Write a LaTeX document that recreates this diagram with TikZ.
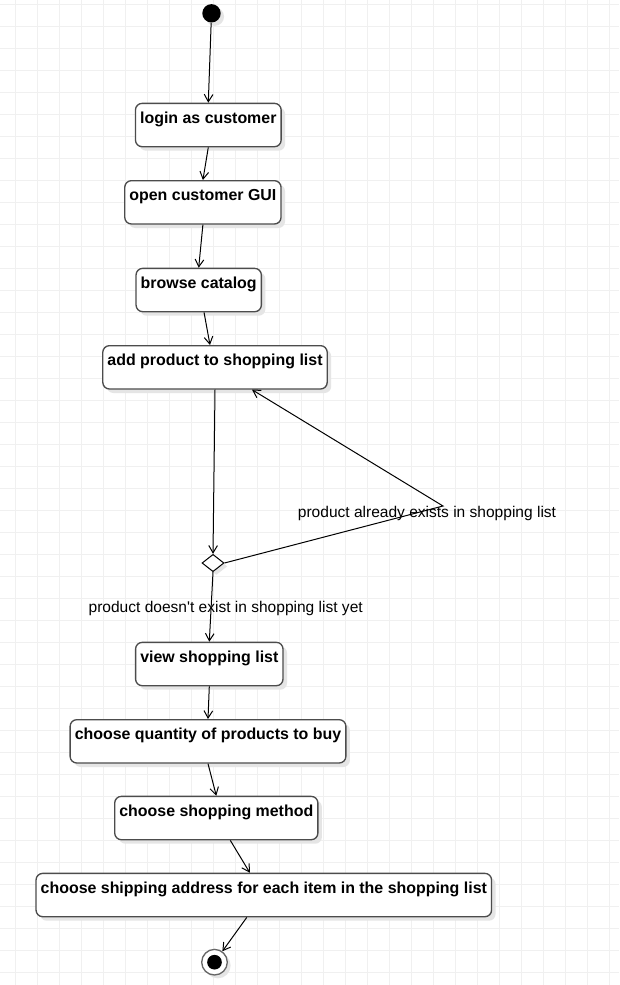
\documentclass[tikz,border=0pt]{standalone}
\usepackage{fontspec}
\setmainfont{Liberation Sans}
\usetikzlibrary{shapes.geometric, shadows, arrows.meta}

\newcommand{\diagfont}{\fontsize{11.65}{14}\selectfont}
\newcommand{\actfont}{\fontsize{11.95}{14}\selectfont\bfseries}

\begin{document}
\begin{tikzpicture}[
    x=0.75pt, y=-0.75pt,
    activity/.style={rectangle, draw=black!70, line width=1pt, rounded corners=5pt, fill=white,
        drop shadow={shadow xshift=3pt, shadow yshift=-3pt, fill=black!10, opacity=1},
        font=\actfont, text=black, anchor=north,
        inner xsep=3.5pt, inner ysep=3pt, text height=12pt, text depth=14.5pt},
    decision/.style={diamond, draw=black, line width=0.75pt, fill=white, inner sep=0pt,
        minimum width=16.5pt, minimum height=13pt,
        drop shadow={shadow xshift=2.5pt, shadow yshift=-2.5pt, fill=black!10, opacity=1}},
    initial/.style={circle, fill=black, inner sep=0pt, minimum size=13.8pt,
        drop shadow={shadow xshift=2.5pt, shadow yshift=-2.5pt, fill=black!10, opacity=1}},
    final/.style={circle, draw=black!60, line width=1pt, fill=white, inner sep=0pt, minimum size=19.2pt,
        drop shadow={shadow xshift=2.5pt, shadow yshift=-2.5pt, fill=black!10, opacity=1}},
    finaldot/.style={circle, fill=black, inner sep=0pt, minimum size=11pt},
    guard/.style={rectangle, draw=none, fill=none, inner sep=0pt, font=\diagfont, text=black},
    gridline/.style={draw=black!6, line width=0.75pt},
    flow/.style={->, draw=black, line width=0.75pt},
    >={Straight Barb[length=5.5pt, width=6.5pt]}
]
\useasboundingbox (0,0) rectangle (619,985);
\fill[white] (0,0) rectangle (619,985);

% background grid
\foreach \gx in {0,...,27}
    \draw[gridline] (15.3+22*\gx,0) -- (15.3+22*\gx,985);
\foreach \gy in {0,...,44}
    \draw[gridline] (0,4.3+22*\gy) -- (619,4.3+22*\gy);

% states
\node (Init00) [initial] at (211.5,13.3) {};
\node (Act01) [activity] at (208.3,102.7) {login as customer};
\node (Act02) [activity] at (202.9,180) {open customer GUI};
\node (Act03) [activity] at (198.7,267.7) {browse catalog};
\node (Act04) [activity] at (215,345) {add product to shopping list};
\node (Dec01) [decision] at (213,563) {};
\node (Act05) [activity] at (209.3,641.7) {view shopping list};
\node (Act06) [activity] at (208,719) {choose quantity of products to buy};
\node (Act07) [activity] at (216.3,795.7) {choose shopping method};
\node (Act08) [activity] at (263.8,872.7) {choose shipping address for each item in the shopping list};
\node (Final00) [final] at (214.5,962.2) {};
\node (Final01) [finaldot] at (Final00) {};

% guards
\node (G01) [guard] at (427,513.3) {product already exists in shopping list};
\node (G02) [guard] at (225.7,608) {product doesn\textquotesingle t exist in shopping list yet};
\coordinate (Bend01) at (443,506);

% transitions
\draw[flow] (Init00) -- (Act01.north);
\draw[flow] (Act01.south) -- (Act02.north);
\draw[flow] (Act02.south) -- (Act03.north);
\draw[flow] ([xshift=4pt]Act03.south) -- ([xshift=-3.75pt]Act04.north);
\draw[flow] (Act04.south) -- (Dec01.north);
\draw[flow] (Dec01.east) -- (Bend01) -- ([xshift=27.75pt]Act04.south);
\draw[flow] (Dec01.south) -- (Act05.north);
\draw[flow] (Act05.south) -- (Act06.north);
\draw[flow] (Act06.south) -- (Act07.north);
\draw[flow] ([xshift=10.5pt]Act07.south) -- ([xshift=-10.5pt]Act08.north);
\draw[flow] ([xshift=-12.75pt]Act08.south) -- (Final00);

\end{tikzpicture}
\end{document}
